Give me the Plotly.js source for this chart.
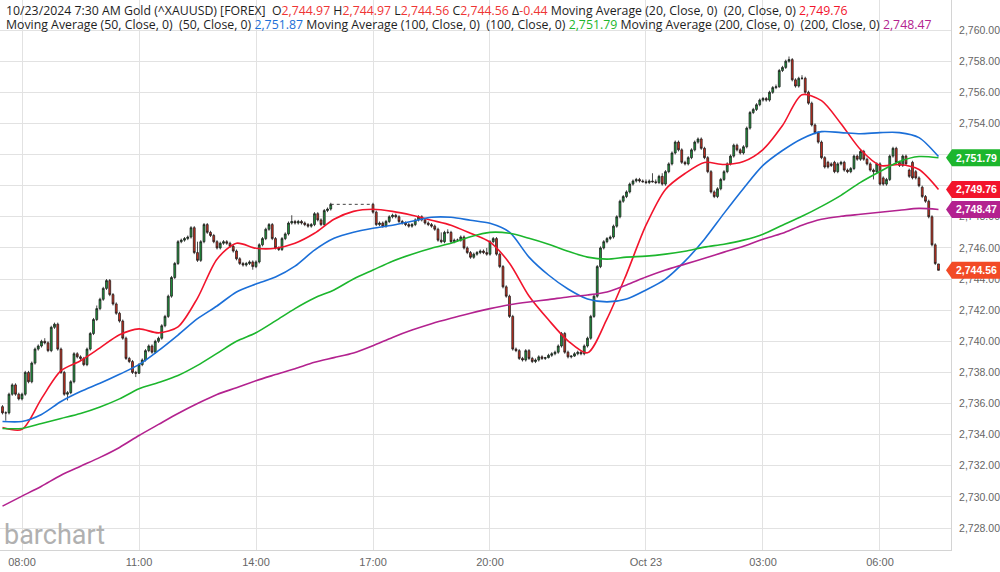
<!DOCTYPE html>
<html><head><meta charset="utf-8">
<script src="https://cdn.plot.ly/plotly-3.0.1.min.js"></script>
<style>html,body{margin:0;padding:0;background:#fff}#chart{width:1000px;height:572px}</style>
</head><body><div id="chart"></div>
<script>
// ---- data (5-minute candles, two sessions) ----
const sessionStarts = ['2024-10-22 07:30', '2024-10-22 17:00'];
const sessionBars = [102, 175];
const barMinutes = 5;

const opens = [
2735.8,2735.4,2735.4,2736.6,2737.2,2736.6,2736.3,2736.6,2738.0,2737.4,
2738.6,2739.5,2739.7,2740.0,2739.9,2739.4,2740.9,2741.1,2739.5,2738.0,
2736.6,2736.7,2737.4,2739.2,2739.0,2738.9,2738.5,2739.5,2740.5,2741.4,
2742.1,2742.7,2743.4,2743.9,2743.0,2742.4,2741.8,2741.3,2740.2,2738.9,
2738.7,2738.0,2737.95,2738.5,2738.8,2739.4,2739.7,2739.3,2740.0,2740.2,
2741.0,2741.6,2742.9,2744.1,2745.0,2746.4,2746.5,2746.6,2746.7,2747.3,
2745.7,2745.2,2746.4,2747.5,2747.0,2746.8,2746.4,2746.0,2746.3,2746.4,
2746.3,2746.1,2745.8,2745.3,2745.0,2744.9,2745.0,2745.1,2744.8,2745.1,
2746.2,2746.6,2747.2,2747.5,2746.6,2746.0,2745.9,2746.6,2746.9,2747.6,
2747.7,2747.6,2747.7,2747.6,2747.5,2747.4,2747.5,2748.2,2747.8,2747.5,
2748.4,2748.5,
2748.8,2748.3,2747.5,2747.6,2747.4,2747.7,2748.0,2748.1,2748.0,2747.7,
2747.6,2747.5,2747.4,2747.5,2747.8,2748.0,2747.8,2747.6,2747.5,2747.4,
2747.2,2746.5,2746.4,2747.0,2747.0,2746.4,2746.5,2746.5,2746.7,2746.0,
2745.7,2745.4,2745.6,2745.7,2745.8,2745.7,2745.6,2746.4,2746.6,2745.6,
2744.8,2743.5,2742.9,2741.6,2739.5,2739.4,2738.9,2738.8,2739.4,2738.9,
2738.7,2738.8,2739.0,2738.9,2738.95,2739.1,2739.2,2739.3,2739.7,2740.5,
2739.3,2739.0,2739.05,2739.2,2739.3,2739.2,2739.7,2740.2,2741.6,2742.9,
2744.8,2746.0,2746.4,2746.6,2746.7,2747.4,2748.0,2749.0,2749.3,2749.6,
2750.1,2750.3,2750.4,2750.3,2750.25,2750.2,2750.3,2750.25,2750.2,2750.6,
2750.1,2750.9,2751.4,2752.1,2752.8,2752.3,2751.5,2751.4,2751.8,2752.3,
2752.8,2753.0,2752.4,2751.8,2750.9,2749.6,2749.3,2749.8,2750.4,2750.9,
2751.4,2751.9,2752.6,2752.3,2752.1,2752.5,2753.7,2754.7,2754.9,2755.2,
2755.5,2755.6,2755.5,2756.0,2756.3,2756.35,2757.4,2757.6,2758.0,2758.1,
2756.8,2756.4,2756.9,2756.9,2756.0,2755.3,2753.9,2753.4,2752.8,2751.8,
2751.5,2751.4,2751.5,2750.9,2751.4,2751.5,2751.0,2750.9,2751.1,2751.9,
2751.7,2752.2,2751.7,2751.4,2751.0,2750.9,2751.4,2750.5,2750.1,2750.4,
2751.9,2752.4,2751.5,2751.3,2751.9,2751.0,2751.5,2750.9,2750.5,2749.9,
2749.3,2749.0,2748.0,2746.2,2744.97
];
const highs = [
2735.9,2735.5,2736.7,2737.3,2737.3,2736.7,2736.7,2738.1,2738.1,2738.7,
2739.6,2739.8,2740.1,2740.2,2740.0,2741.0,2741.2,2741.2,2739.6,2738.1,
2736.8,2737.5,2739.3,2739.3,2739.1,2739.0,2739.6,2740.6,2741.5,2742.3,
2742.8,2743.5,2744.0,2744.0,2743.1,2742.5,2741.9,2741.4,2740.3,2739.0,
2738.8,2738.1,2738.6,2738.9,2739.5,2739.8,2739.8,2740.1,2740.3,2741.1,
2741.7,2743.0,2744.2,2745.1,2746.5,2746.6,2746.7,2746.8,2747.4,2747.4,
2746.4,2746.5,2747.6,2747.6,2747.1,2746.9,2746.5,2746.4,2746.5,2746.5,
2746.4,2746.2,2745.9,2745.4,2745.1,2745.1,2745.2,2745.2,2745.2,2746.3,
2746.7,2747.3,2747.6,2747.6,2746.7,2746.1,2746.7,2747.0,2747.7,2748.1,
2747.8,2747.8,2747.8,2747.7,2747.6,2747.6,2748.3,2748.3,2747.9,2748.5,
2748.6,2748.9,
2748.9,2748.4,2747.7,2747.7,2747.8,2748.1,2748.2,2748.2,2748.1,2747.8,
2747.7,2747.6,2747.6,2747.9,2748.1,2748.1,2747.9,2747.7,2747.6,2747.5,
2747.3,2747.0,2747.1,2747.2,2747.1,2746.6,2746.6,2746.8,2746.8,2746.1,
2745.8,2745.7,2745.8,2745.9,2745.9,2746.0,2746.5,2746.7,2746.7,2745.7,
2744.9,2743.6,2743.0,2741.7,2739.6,2739.5,2739.0,2739.5,2739.5,2739.0,
2738.9,2739.1,2739.1,2739.0,2739.2,2739.3,2739.4,2739.8,2740.6,2740.6,
2739.4,2739.1,2739.3,2739.4,2739.4,2739.8,2740.3,2741.7,2743.0,2744.9,
2746.1,2746.5,2746.7,2746.8,2747.5,2748.1,2749.1,2749.4,2749.7,2750.2,
2750.4,2750.5,2750.5,2750.4,2750.4,2750.4,2750.8,2750.4,2750.7,2750.8,
2751.0,2751.5,2752.2,2752.9,2752.9,2752.4,2751.6,2751.9,2752.4,2752.9,
2753.1,2753.1,2752.5,2751.9,2751.0,2749.7,2749.9,2750.5,2751.0,2751.5,
2752.0,2752.7,2752.7,2752.4,2752.6,2753.8,2754.8,2755.0,2755.3,2755.6,
2755.7,2755.7,2756.1,2756.4,2756.5,2757.5,2757.7,2758.1,2758.3,2758.2,
2756.9,2757.0,2757.1,2757.0,2756.1,2755.4,2754.0,2753.5,2752.9,2751.9,
2751.6,2751.5,2751.6,2751.5,2751.6,2751.6,2751.1,2751.2,2752.0,2752.0,
2752.3,2752.3,2751.8,2751.5,2751.1,2751.5,2751.5,2750.6,2750.5,2752.0,
2752.5,2752.5,2751.6,2752.0,2752.0,2751.1,2751.6,2751.0,2750.6,2750.0,
2749.4,2749.1,2748.1,2746.3,2744.97
];
const lows = [
2735.3,2734.9,2735.3,2736.5,2736.5,2736.2,2736.2,2736.5,2737.3,2737.3,
2738.5,2739.4,2739.6,2739.8,2739.3,2739.3,2740.8,2739.4,2737.9,2736.5,
2736.2,2736.6,2737.3,2738.9,2738.8,2738.4,2738.4,2739.4,2740.4,2741.3,
2742.0,2742.6,2743.3,2742.9,2742.3,2741.7,2741.2,2740.1,2738.8,2738.6,
2737.9,2737.7,2737.9,2738.4,2738.7,2739.3,2739.2,2739.2,2739.9,2740.1,
2740.9,2741.5,2742.8,2744.0,2744.9,2746.3,2746.4,2746.5,2746.6,2745.6,
2745.1,2745.1,2746.3,2746.9,2746.7,2746.3,2745.9,2745.9,2746.2,2746.2,
2746.0,2745.7,2745.2,2744.9,2744.8,2744.8,2744.9,2744.6,2744.7,2745.0,
2746.1,2746.5,2747.1,2746.5,2745.9,2745.8,2745.8,2746.5,2746.8,2747.5,
2747.5,2747.5,2747.5,2747.4,2747.3,2747.3,2747.4,2747.7,2747.4,2747.4,
2748.3,2748.4,
2748.2,2747.4,2747.4,2747.3,2747.3,2747.6,2747.9,2747.9,2747.6,2747.5,
2747.4,2747.3,2747.3,2747.4,2747.7,2747.7,2747.5,2747.4,2747.3,2747.1,
2746.4,2746.3,2746.3,2746.9,2746.3,2746.3,2746.4,2746.4,2745.9,2745.6,
2745.3,2745.3,2745.5,2745.6,2745.6,2745.5,2745.5,2746.3,2745.5,2744.7,
2743.4,2742.8,2741.5,2739.4,2739.3,2738.8,2738.7,2738.7,2738.8,2738.6,
2738.6,2738.7,2738.8,2738.8,2738.9,2739.0,2739.1,2739.2,2739.6,2739.2,
2738.9,2738.9,2739.0,2739.1,2739.1,2739.1,2739.6,2740.1,2741.5,2742.8,
2744.7,2745.9,2746.3,2746.5,2746.6,2747.3,2747.9,2748.9,2749.2,2749.5,
2750.0,2750.2,2750.2,2750.2,2750.1,2750.1,2750.2,2750.1,2750.1,2750.0,
2750.0,2750.8,2751.3,2752.0,2752.2,2751.4,2751.3,2751.3,2751.7,2752.2,
2752.7,2752.3,2751.7,2750.8,2749.5,2749.2,2749.2,2749.7,2750.3,2750.8,
2751.3,2751.8,2752.2,2752.0,2752.0,2752.4,2753.6,2754.6,2754.8,2755.1,
2755.4,2755.4,2755.4,2755.9,2756.2,2756.3,2757.3,2757.5,2757.9,2756.7,
2756.3,2756.3,2756.8,2755.9,2755.2,2753.8,2753.3,2752.7,2751.7,2751.1,
2751.1,2751.2,2750.8,2750.8,2751.3,2750.9,2750.8,2750.8,2751.0,2751.6,
2751.6,2751.6,2751.3,2750.9,2750.4,2750.8,2750.0,2750.0,2750.0,2750.3,
2751.8,2751.4,2751.2,2751.2,2751.3,2750.5,2750.4,2750.4,2749.9,2749.2,
2748.9,2747.9,2746.1,2744.9,2744.56
];
const closes = [
2735.4,2735.4,2736.6,2737.2,2736.6,2736.3,2736.6,2738.0,2737.4,2738.6,
2739.5,2739.7,2740.0,2739.9,2739.4,2740.9,2741.1,2739.5,2738.0,2736.6,
2736.7,2737.4,2739.2,2739.0,2738.9,2738.5,2739.5,2740.5,2741.4,2742.1,
2742.7,2743.4,2743.9,2743.0,2742.4,2741.8,2741.3,2740.2,2738.9,2738.7,
2738.0,2737.95,2738.5,2738.8,2739.4,2739.7,2739.3,2740.0,2740.2,2741.0,
2741.6,2742.9,2744.1,2745.0,2746.4,2746.5,2746.6,2746.7,2747.3,2745.7,
2745.2,2746.4,2747.5,2747.0,2746.8,2746.4,2746.0,2746.3,2746.4,2746.3,
2746.1,2745.8,2745.3,2745.0,2744.9,2745.0,2745.1,2744.8,2745.1,2746.2,
2746.6,2747.2,2747.5,2746.6,2746.0,2745.9,2746.6,2746.9,2747.6,2747.7,
2747.6,2747.7,2747.6,2747.5,2747.4,2747.5,2748.2,2747.8,2747.5,2748.4,
2748.5,2748.8,
2748.3,2747.5,2747.6,2747.4,2747.7,2748.0,2748.1,2748.0,2747.7,2747.6,
2747.5,2747.4,2747.5,2747.8,2748.0,2747.8,2747.6,2747.5,2747.4,2747.2,
2746.5,2746.4,2747.0,2747.0,2746.4,2746.5,2746.5,2746.7,2746.0,2745.7,
2745.4,2745.6,2745.7,2745.8,2745.7,2745.6,2746.4,2746.6,2745.6,2744.8,
2743.5,2742.9,2741.6,2739.5,2739.4,2738.9,2738.8,2739.4,2738.9,2738.7,
2738.8,2739.0,2738.9,2738.95,2739.1,2739.2,2739.3,2739.7,2740.5,2739.3,
2739.0,2739.05,2739.2,2739.3,2739.2,2739.7,2740.2,2741.6,2742.9,2744.8,
2746.0,2746.4,2746.6,2746.7,2747.4,2748.0,2749.0,2749.3,2749.6,2750.1,
2750.3,2750.4,2750.3,2750.25,2750.2,2750.3,2750.25,2750.2,2750.6,2750.1,
2750.9,2751.4,2752.1,2752.8,2752.3,2751.5,2751.4,2751.8,2752.3,2752.8,
2753.0,2752.4,2751.8,2750.9,2749.6,2749.3,2749.8,2750.4,2750.9,2751.4,
2751.9,2752.6,2752.3,2752.1,2752.5,2753.7,2754.7,2754.9,2755.2,2755.5,
2755.6,2755.5,2756.0,2756.3,2756.35,2757.4,2757.6,2758.0,2758.1,2756.8,
2756.4,2756.9,2756.9,2756.0,2755.3,2753.9,2753.4,2752.8,2751.8,2751.2,
2751.2,2751.3,2750.9,2751.4,2751.5,2751.0,2750.9,2751.1,2751.9,2751.7,
2752.2,2751.7,2751.4,2751.0,2750.9,2751.4,2750.1,2750.1,2750.4,2751.9,
2752.4,2751.5,2751.3,2751.9,2751.4,2750.6,2750.5,2750.5,2750.0,2749.3,
2749.0,2748.0,2746.2,2745.0,2744.56
];

// ---- moving averages, read every 30 minutes ----
const maStart = '2024-10-22 07:30';
const maStepMinutes = 30;
const ma20 = [2734.46,2734.34,2736.32,2738.11,2738.75,2739.58,2740.42,2740.80,2740.54,2740.93,
2742.78,2745.28,2746.30,2745.98,2745.98,2746.30,2746.94,2747.84,2748.35,2748.48,
2748.35,2748.10,2747.78,2747.46,2746.94,2746.37,2745.02,2742.91,2741.38,2740.03,
2739.26,2741.44,2744.32,2747.46,2749.76,2750.78,2751.49,2751.36,2751.55,2752.32,
2753.86,2755.84,2755.46,2753.98,2752.32,2751.30,2751.36,2751.04,2749.76];
const ma50 = [2734.85,2734.85,2735.30,2736.13,2736.77,2737.30,2737.88,2738.50,2739.40,2740.40,
2741.45,2742.27,2743.17,2743.68,2744.13,2744.83,2745.86,2746.62,2747.01,2747.26,
2747.46,2747.71,2747.97,2747.97,2747.78,2747.58,2747.01,2745.41,2744.26,2743.36,
2742.72,2742.53,2742.72,2743.30,2744.00,2745.15,2746.56,2748.22,2749.82,2751.30,
2752.26,2753.02,2753.47,2753.41,2753.34,2753.41,2753.41,2753.09,2751.87];
const ma100 = [2734.40,2734.40,2734.72,2735.04,2735.36,2735.78,2736.30,2736.95,2737.35,2737.80,
2738.45,2739.22,2740.00,2740.55,2741.31,2742.10,2742.78,2743.30,2744.00,2744.58,
2745.15,2745.60,2745.98,2746.30,2746.72,2747.00,2746.94,2746.62,2746.24,2745.79,
2745.41,2745.28,2745.41,2745.47,2745.60,2745.79,2746.05,2746.24,2746.50,2746.88,
2747.46,2748.03,2748.67,2749.38,2750.21,2750.91,2751.55,2751.87,2751.79];
const ma200 = [2729.41,2730.05,2730.69,2731.39,2731.97,2732.54,2733.18,2733.95,2734.66,2735.36,
2736.00,2736.58,2737.02,2737.47,2737.86,2738.24,2738.65,2738.95,2739.25,2739.72,
2740.25,2740.72,2741.13,2741.48,2741.80,2742.10,2742.35,2742.53,2742.68,2742.85,
2742.98,2743.17,2743.62,2744.13,2744.58,2744.96,2745.34,2745.73,2746.11,2746.56,
2746.94,2747.46,2747.84,2748.03,2748.16,2748.29,2748.42,2748.54,2748.47];

const maNames = ['Moving Average (20, Close, 0)', 'Moving Average (50, Close, 0)', 'Moving Average (100, Close, 0)', 'Moving Average (200, Close, 0)'];
const maShort = ['(20, Close, 0)', '(50, Close, 0)', '(100, Close, 0)', '(200, Close, 0)'];
const maColors = ['#f2142c', '#1b6fd8', '#1cb62d', '#b3228f'];

const xTickTimes = ['2024-10-22 08:00','2024-10-22 11:00','2024-10-22 14:00','2024-10-22 17:00','2024-10-22 20:00','2024-10-23 00:00','2024-10-23 03:00','2024-10-23 06:00'];
const xTickLabels = ['08:00','11:00','14:00','17:00','20:00','Oct 23','03:00','06:00'];
const headerTime = '10/23/2024 7:30 AM';
const headerSymbol = 'Gold (^XAUUSD) [FOREX]';
const lastPriceColor = '#f24a26';

// ---- helpers ----
function addMinutes(str, m) {
  const [d, t] = str.split(' ');
  const [Y, M, D] = d.split('-').map(Number);
  const [h, mi] = t.split(':').map(Number);
  return new Date(Date.UTC(Y, M - 1, D, h, mi) + m * 60000).toISOString().slice(0, 16).replace('T', ' ');
}
function fmt(v) { return v.toLocaleString('en-US', {minimumFractionDigits: 2, maximumFractionDigits: 2}); }

const times = [];
sessionStarts.forEach((s, k) => { for (let i = 0; i < sessionBars[k]; i++) times.push(addMinutes(s, i * barMinutes)); });
const maTimes = ma20.map((_, i) => addMinutes(maStart, i * maStepMinutes));
const maSeries = [ma20, ma50, ma100, ma200];

const AXF = '"Liberation Sans", Arial, sans-serif';
const HEAD = '"Open Sans", "Noto Sans", sans-serif';

const traces = [];
maSeries.forEach((arr, k) => {
  traces.push({type: 'scatter', mode: 'lines', x: maTimes, y: arr, hoverinfo: 'skip',
    line: {color: maColors[k], width: 1.6, shape: 'spline', smoothing: 0.8}});
});
const gapIdx = sessionBars[0] - 1;
traces.push({type: 'scatter', mode: 'lines', x: [times[gapIdx], times[gapIdx + 1]], y: [closes[gapIdx], opens[gapIdx + 1]],
  hoverinfo: 'skip', line: {color: '#444', width: 1, dash: 'dot'}});
traces.push({type: 'candlestick', x: times, open: opens, high: highs, low: lows, close: closes,
  hoverinfo: 'skip', whiskerwidth: 0,
  increasing: {fillcolor: '#1f9c3e', line: {color: '#1d1d1d', width: 0.8}},
  decreasing: {fillcolor: '#d6301e', line: {color: '#1d1d1d', width: 0.8}}});

// ---- header ----
const n = closes.length;
const red = 'color:#ef3535';
const delta = closes[n - 1] - closes[n - 2];
const sp = '\u00a0';
const line1 = `${headerTime} ${headerSymbol}${sp} O<span style="${red}">${fmt(opens[n-1])}</span> H<span style="${red}">${fmt(highs[n-1])}</span> L<span style="${red}">${fmt(lows[n-1])}</span> C<span style="${red}">${fmt(closes[n-1])}</span> Δ<span style="${red}">${delta.toFixed(2)}</span> ${maNames[0]}${sp} ${maShort[0]} <span style="color:${maColors[0]}">${fmt(ma20[ma20.length-1])}</span>`;
let line2 = '';
for (let k = 1; k < 4; k++) {
  line2 += `${maNames[k]}${sp} ${maShort[k]} <span style="color:${maColors[k]}">${fmt(maSeries[k][maSeries[k].length-1])}</span>` + (k < 3 ? ' ' : '');
}

const plotH = 550;
const annotations = [
  {xref: 'paper', yref: 'paper', x: 0, xshift: 4, y: 1 - 10 / plotH, xanchor: 'left', yanchor: 'middle', showarrow: false, text: line1, font: {family: HEAD, size: 12.3, color: '#1e1e1e'}},
  {xref: 'paper', yref: 'paper', x: 0, xshift: 4, y: 1 - 24 / plotH, xanchor: 'left', yanchor: 'middle', showarrow: false, text: line2, font: {family: HEAD, size: 12.3, color: '#1e1e1e'}},
  {xref: 'paper', yref: 'paper', x: 0, xshift: 2, y: 1 - 535 / plotH, xanchor: 'left', yanchor: 'middle', showarrow: false, text: 'barchart', font: {family: 'Roboto, sans-serif', size: 27, color: '#b0b0b0'}}
];
const shapes = [];
const tags = [
  {v: ma100[ma100.length - 1], c: maColors[2]},
  {v: ma20[ma20.length - 1], c: maColors[0]},
  {v: ma200[ma200.length - 1], c: maColors[3]},
  {v: closes[n - 1], c: lastPriceColor}
];
tags.forEach(t => {
  shapes.push({type: 'path', xref: 'paper', yref: 'y', xsizemode: 'pixel', ysizemode: 'pixel', xanchor: 1, yanchor: t.v,
    path: 'M-5,0L1,8.5L49,8.5L49,-8.5L1,-8.5Z', fillcolor: t.c, line: {width: 0}, layer: 'above'});
  annotations.push({xref: 'paper', yref: 'y', x: 1, xshift: 25, y: t.v, xanchor: 'center', yanchor: 'middle', showarrow: false,
    text: '<b>' + fmt(t.v) + '</b>', font: {family: AXF, size: 10.5, color: '#fff'}});
});

const layout = {
  width: 1000, height: 572, margin: {l: 0, r: 49, t: 0, b: 22},
  paper_bgcolor: '#fff', plot_bgcolor: '#fff', showlegend: false, boxgap: 0.2,
  xaxis: {type: 'date', range: ['2024-10-22 07:26:09', '2024-10-23 07:49:15'], tickvals: xTickTimes, ticktext: xTickLabels,
    showgrid: true, gridcolor: '#e2e2e2', gridwidth: 1, showline: true, linecolor: '#d4d4d4', zeroline: false,
    ticks: '', ticklabelstandoff: 2, tickfont: {family: AXF, size: 11, color: '#666'}, rangeslider: {visible: false}, fixedrange: true},
  yaxis: {side: 'right', range: [2726.59, 2761.93], tick0: 2728, dtick: 2, tickformat: ',.2f',
    showgrid: true, gridcolor: '#e2e2e2', gridwidth: 1, showline: true, linecolor: '#d4d4d4', zeroline: false,
    ticks: '', ticklabelstandoff: 5, tickfont: {family: AXF, size: 10.5, color: '#666'}, fixedrange: true},
  annotations: annotations, shapes: shapes
};
Plotly.newPlot('chart', traces, layout, {displayModeBar: false, staticPlot: true});
</script>
</body></html>
